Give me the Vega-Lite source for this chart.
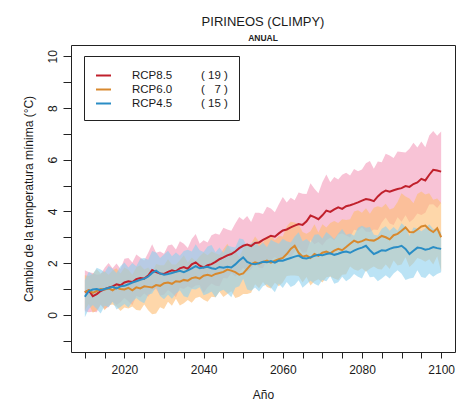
{
  "$schema": "https://vega.github.io/schema/vega-lite/v6.json",
  "width": 384,
  "height": 307,
  "autosize": "none",
  "padding": {"left": 71, "top": 45, "right": 8, "bottom": 53},
  "background": "white",
  "config": {
    "font": "Liberation Sans",
    "view": {"stroke": "#222", "strokeWidth": 1},
    "axis": {"grid": false, "domain": false, "tickColor": "#222", "labelColor": "#1a1a1a", "titleColor": "#1a1a1a", "labelFont": "Liberation Sans", "titleFont": "Liberation Sans", "labelFontSize": 12, "titleFontSize": 12, "titleFontWeight": "normal"}
  },
  "title": {"text": "PIRINEOS (CLIMPY)", "subtitle": "ANUAL", "anchor": "middle", "fontSize": 13, "fontWeight": "normal", "color": "#1a1a1a", "subtitleFontSize": 8.5, "subtitleFontWeight": "bold", "subtitleColor": "#222", "offset": 3, "subtitlePadding": 5, "font": "Liberation Sans", "subtitleFont": "Liberation Sans"},
  "data": {"values": [
{"s":"RCP8.5","year":2010,"mean":0.87,"lo":0.14,"hi":1.72},
{"s":"RCP8.5","year":2011,"mean":0.95,"lo":0.10,"hi":1.65},
{"s":"RCP8.5","year":2012,"mean":0.72,"lo":0.12,"hi":1.62},
{"s":"RCP8.5","year":2013,"mean":0.80,"lo":0.10,"hi":1.55},
{"s":"RCP8.5","year":2014,"mean":0.92,"lo":0.39,"hi":1.57},
{"s":"RCP8.5","year":2015,"mean":0.99,"lo":0.22,"hi":1.82},
{"s":"RCP8.5","year":2016,"mean":1.05,"lo":0.30,"hi":2.00},
{"s":"RCP8.5","year":2017,"mean":1.10,"lo":0.50,"hi":1.80},
{"s":"RCP8.5","year":2018,"mean":1.18,"lo":0.38,"hi":1.98},
{"s":"RCP8.5","year":2019,"mean":1.14,"lo":0.49,"hi":1.77},
{"s":"RCP8.5","year":2020,"mean":1.25,"lo":0.65,"hi":2.17},
{"s":"RCP8.5","year":2021,"mean":1.30,"lo":0.52,"hi":2.20},
{"s":"RCP8.5","year":2022,"mean":1.27,"lo":0.37,"hi":2.02},
{"s":"RCP8.5","year":2023,"mean":1.38,"lo":0.73,"hi":2.33},
{"s":"RCP8.5","year":2024,"mean":1.42,"lo":0.67,"hi":2.22},
{"s":"RCP8.5","year":2025,"mean":1.40,"lo":0.82,"hi":2.10},
{"s":"RCP8.5","year":2026,"mean":1.52,"lo":0.70,"hi":2.40},
{"s":"RCP8.5","year":2027,"mean":1.73,"lo":0.93,"hi":2.73},
{"s":"RCP8.5","year":2028,"mean":1.65,"lo":1.00,"hi":2.40},
{"s":"RCP8.5","year":2029,"mean":1.60,"lo":0.75,"hi":2.45},
{"s":"RCP8.5","year":2030,"mean":1.58,"lo":0.78,"hi":2.36},
{"s":"RCP8.5","year":2031,"mean":1.66,"lo":0.96,"hi":2.68},
{"s":"RCP8.5","year":2032,"mean":1.72,"lo":0.84,"hi":2.72},
{"s":"RCP8.5","year":2033,"mean":1.68,"lo":0.68,"hi":2.53},
{"s":"RCP8.5","year":2034,"mean":1.80,"lo":1.05,"hi":2.85},
{"s":"RCP8.5","year":2035,"mean":1.85,"lo":1.00,"hi":2.75},
{"s":"RCP8.5","year":2036,"mean":1.78,"lo":1.10,"hi":2.58},
{"s":"RCP8.5","year":2037,"mean":1.95,"lo":1.03,"hi":2.93},
{"s":"RCP8.5","year":2038,"mean":2.03,"lo":1.13,"hi":3.13},
{"s":"RCP8.5","year":2039,"mean":1.90,"lo":1.15,"hi":2.75},
{"s":"RCP8.5","year":2040,"mean":1.83,"lo":0.83,"hi":2.88},
{"s":"RCP8.5","year":2041,"mean":1.92,"lo":1.07,"hi":2.80},
{"s":"RCP8.5","year":2042,"mean":1.96,"lo":1.21,"hi":3.08},
{"s":"RCP8.5","year":2043,"mean":2.05,"lo":1.12,"hi":3.15},
{"s":"RCP8.5","year":2044,"mean":2.15,"lo":1.10,"hi":3.10},
{"s":"RCP8.5","year":2045,"mean":2.22,"lo":1.42,"hi":3.37},
{"s":"RCP8.5","year":2046,"mean":2.30,"lo":1.40,"hi":3.30},
{"s":"RCP8.5","year":2047,"mean":2.35,"lo":1.62,"hi":3.25},
{"s":"RCP8.5","year":2048,"mean":2.45,"lo":1.48,"hi":3.53},
{"s":"RCP8.5","year":2049,"mean":2.58,"lo":1.63,"hi":3.78},
{"s":"RCP8.5","year":2050,"mean":2.67,"lo":1.82,"hi":3.67},
{"s":"RCP8.5","year":2051,"mean":2.72,"lo":1.67,"hi":3.82},
{"s":"RCP8.5","year":2052,"mean":2.66,"lo":1.76,"hi":3.59},
{"s":"RCP8.5","year":2053,"mean":2.78,"lo":1.98,"hi":3.95},
{"s":"RCP8.5","year":2054,"mean":2.80,"lo":1.82,"hi":3.95},
{"s":"RCP8.5","year":2055,"mean":2.90,"lo":1.80,"hi":3.90},
{"s":"RCP8.5","year":2056,"mean":2.98,"lo":2.13,"hi":4.18},
{"s":"RCP8.5","year":2057,"mean":3.06,"lo":2.11,"hi":4.11},
{"s":"RCP8.5","year":2058,"mean":3.02,"lo":2.24,"hi":3.97},
{"s":"RCP8.5","year":2059,"mean":3.15,"lo":2.13,"hi":4.28},
{"s":"RCP8.5","year":2060,"mean":3.26,"lo":2.16,"hi":4.56},
{"s":"RCP8.5","year":2061,"mean":3.30,"lo":2.35,"hi":4.35},
{"s":"RCP8.5","year":2062,"mean":3.38,"lo":2.23,"hi":4.53},
{"s":"RCP8.5","year":2063,"mean":3.45,"lo":2.45,"hi":4.43},
{"s":"RCP8.5","year":2064,"mean":3.51,"lo":2.61,"hi":4.73},
{"s":"RCP8.5","year":2065,"mean":3.48,"lo":2.40,"hi":4.68},
{"s":"RCP8.5","year":2066,"mean":3.62,"lo":2.42,"hi":4.67},
{"s":"RCP8.5","year":2067,"mean":3.84,"lo":2.89,"hi":5.09},
{"s":"RCP8.5","year":2068,"mean":3.78,"lo":2.73,"hi":4.88},
{"s":"RCP8.5","year":2069,"mean":3.70,"lo":2.82,"hi":4.70},
{"s":"RCP8.5","year":2070,"mean":3.85,"lo":2.68,"hi":5.13},
{"s":"RCP8.5","year":2071,"mean":4.03,"lo":2.88,"hi":5.43},
{"s":"RCP8.5","year":2072,"mean":3.98,"lo":2.98,"hi":5.13},
{"s":"RCP8.5","year":2073,"mean":4.08,"lo":2.88,"hi":5.33},
{"s":"RCP8.5","year":2074,"mean":4.16,"lo":3.11,"hi":5.24},
{"s":"RCP8.5","year":2075,"mean":4.10,"lo":3.15,"hi":5.42},
{"s":"RCP8.5","year":2076,"mean":4.20,"lo":3.07,"hi":5.50},
{"s":"RCP8.5","year":2077,"mean":4.24,"lo":2.99,"hi":5.39},
{"s":"RCP8.5","year":2078,"mean":4.29,"lo":3.29,"hi":5.64},
{"s":"RCP8.5","year":2079,"mean":4.35,"lo":3.25,"hi":5.55},
{"s":"RCP8.5","year":2080,"mean":4.42,"lo":3.39,"hi":5.62},
{"s":"RCP8.5","year":2081,"mean":4.48,"lo":3.21,"hi":5.86},
{"s":"RCP8.5","year":2082,"mean":4.45,"lo":3.20,"hi":5.95},
{"s":"RCP8.5","year":2083,"mean":4.40,"lo":3.30,"hi":5.65},
{"s":"RCP8.5","year":2084,"mean":4.58,"lo":3.28,"hi":5.93},
{"s":"RCP8.5","year":2085,"mean":4.72,"lo":3.57,"hi":5.90},
{"s":"RCP8.5","year":2086,"mean":4.81,"lo":3.76,"hi":6.23},
{"s":"RCP8.5","year":2087,"mean":4.76,"lo":3.53,"hi":6.16},
{"s":"RCP8.5","year":2088,"mean":4.82,"lo":3.47,"hi":6.07},
{"s":"RCP8.5","year":2089,"mean":4.87,"lo":3.77,"hi":6.32},
{"s":"RCP8.5","year":2090,"mean":4.90,"lo":3.60,"hi":6.30},
{"s":"RCP8.5","year":2091,"mean":4.98,"lo":3.85,"hi":6.28},
{"s":"RCP8.5","year":2092,"mean":4.95,"lo":3.58,"hi":6.43},
{"s":"RCP8.5","year":2093,"mean":5.06,"lo":3.71,"hi":6.66},
{"s":"RCP8.5","year":2094,"mean":5.12,"lo":3.92,"hi":6.47},
{"s":"RCP8.5","year":2095,"mean":5.26,"lo":3.86,"hi":6.71},
{"s":"RCP8.5","year":2096,"mean":5.20,"lo":3.95,"hi":6.48},
{"s":"RCP8.5","year":2097,"mean":5.42,"lo":4.27,"hi":6.94},
{"s":"RCP8.5","year":2098,"mean":5.61,"lo":4.28,"hi":7.11},
{"s":"RCP8.5","year":2099,"mean":5.58,"lo":4.13,"hi":6.93},
{"s":"RCP8.5","year":2100,"mean":5.54,"lo":4.34,"hi":7.09},
{"s":"RCP6.0","year":2010,"mean":0.88,"lo":0.18,"hi":1.53},
{"s":"RCP6.0","year":2011,"mean":0.95,"lo":0.42,"hi":1.50},
{"s":"RCP6.0","year":2012,"mean":0.85,"lo":0.08,"hi":1.58},
{"s":"RCP6.0","year":2013,"mean":0.92,"lo":0.17,"hi":1.77},
{"s":"RCP6.0","year":2014,"mean":1.00,"lo":0.40,"hi":1.60},
{"s":"RCP6.0","year":2015,"mean":0.98,"lo":0.18,"hi":1.68},
{"s":"RCP6.0","year":2016,"mean":1.02,"lo":0.37,"hi":1.55},
{"s":"RCP6.0","year":2017,"mean":0.95,"lo":0.40,"hi":1.72},
{"s":"RCP6.0","year":2018,"mean":1.05,"lo":0.32,"hi":1.80},
{"s":"RCP6.0","year":2019,"mean":1.00,"lo":0.15,"hi":1.60},
{"s":"RCP6.0","year":2020,"mean":0.98,"lo":0.28,"hi":1.83},
{"s":"RCP6.0","year":2021,"mean":1.04,"lo":0.24,"hi":1.74},
{"s":"RCP6.0","year":2022,"mean":0.95,"lo":0.32,"hi":1.55},
{"s":"RCP6.0","year":2023,"mean":1.06,"lo":0.19,"hi":1.84},
{"s":"RCP6.0","year":2024,"mean":1.02,"lo":0.17,"hi":1.92},
{"s":"RCP6.0","year":2025,"mean":1.10,"lo":0.40,"hi":1.75},
{"s":"RCP6.0","year":2026,"mean":1.08,"lo":0.18,"hi":1.83},
{"s":"RCP6.0","year":2027,"mean":1.06,"lo":0.02,"hi":1.64},
{"s":"RCP6.0","year":2028,"mean":1.15,"lo":0.05,"hi":1.97},
{"s":"RCP6.0","year":2029,"mean":1.12,"lo":0.29,"hi":1.92},
{"s":"RCP6.0","year":2030,"mean":1.22,"lo":0.22,"hi":1.92},
{"s":"RCP6.0","year":2031,"mean":1.25,"lo":0.50,"hi":2.15},
{"s":"RCP6.0","year":2032,"mean":1.20,"lo":0.35,"hi":1.95},
{"s":"RCP6.0","year":2033,"mean":1.30,"lo":0.62,"hi":1.95},
{"s":"RCP6.0","year":2034,"mean":1.28,"lo":0.36,"hi":2.11},
{"s":"RCP6.0","year":2035,"mean":1.35,"lo":0.45,"hi":2.30},
{"s":"RCP6.0","year":2036,"mean":1.32,"lo":0.57,"hi":2.02},
{"s":"RCP6.0","year":2037,"mean":1.42,"lo":0.47,"hi":2.22},
{"s":"RCP6.0","year":2038,"mean":1.45,"lo":0.65,"hi":2.08},
{"s":"RCP6.0","year":2039,"mean":1.40,"lo":0.70,"hi":2.27},
{"s":"RCP6.0","year":2040,"mean":1.51,"lo":0.58,"hi":2.41},
{"s":"RCP6.0","year":2041,"mean":1.55,"lo":0.50,"hi":2.30},
{"s":"RCP6.0","year":2042,"mean":1.50,"lo":0.70,"hi":2.45},
{"s":"RCP6.0","year":2043,"mean":1.58,"lo":0.68,"hi":2.38},
{"s":"RCP6.0","year":2044,"mean":1.62,"lo":0.89,"hi":2.32},
{"s":"RCP6.0","year":2045,"mean":1.66,"lo":0.69,"hi":2.54},
{"s":"RCP6.0","year":2046,"mean":1.75,"lo":0.80,"hi":2.75},
{"s":"RCP6.0","year":2047,"mean":1.71,"lo":0.91,"hi":2.46},
{"s":"RCP6.0","year":2048,"mean":1.65,"lo":0.65,"hi":2.50},
{"s":"RCP6.0","year":2049,"mean":1.55,"lo":0.70,"hi":2.23},
{"s":"RCP6.0","year":2050,"mean":1.60,"lo":0.80,"hi":2.57},
{"s":"RCP6.0","year":2051,"mean":1.78,"lo":0.80,"hi":2.73},
{"s":"RCP6.0","year":2052,"mean":1.95,"lo":0.85,"hi":2.75},
{"s":"RCP6.0","year":2053,"mean":2.03,"lo":1.18,"hi":3.03},
{"s":"RCP6.0","year":2054,"mean":1.98,"lo":1.03,"hi":2.83},
{"s":"RCP6.0","year":2055,"mean":2.05,"lo":1.27,"hi":2.80},
{"s":"RCP6.0","year":2056,"mean":2.10,"lo":1.08,"hi":3.03},
{"s":"RCP6.0","year":2057,"mean":2.02,"lo":1.02,"hi":3.07},
{"s":"RCP6.0","year":2058,"mean":2.09,"lo":1.24,"hi":2.89},
{"s":"RCP6.0","year":2059,"mean":2.15,"lo":1.10,"hi":3.05},
{"s":"RCP6.0","year":2060,"mean":2.20,"lo":1.25,"hi":3.03},
{"s":"RCP6.0","year":2061,"mean":2.35,"lo":1.50,"hi":3.42},
{"s":"RCP6.0","year":2062,"mean":2.55,"lo":1.52,"hi":3.60},
{"s":"RCP6.0","year":2063,"mean":2.67,"lo":1.52,"hi":3.57},
{"s":"RCP6.0","year":2064,"mean":2.40,"lo":1.50,"hi":3.50},
{"s":"RCP6.0","year":2065,"mean":2.25,"lo":1.25,"hi":3.20},
{"s":"RCP6.0","year":2066,"mean":2.29,"lo":1.46,"hi":3.14},
{"s":"RCP6.0","year":2067,"mean":2.20,"lo":1.13,"hi":3.23},
{"s":"RCP6.0","year":2068,"mean":2.35,"lo":1.30,"hi":3.50},
{"s":"RCP6.0","year":2069,"mean":2.28,"lo":1.38,"hi":3.18},
{"s":"RCP6.0","year":2070,"mean":2.40,"lo":1.25,"hi":3.50},
{"s":"RCP6.0","year":2071,"mean":2.45,"lo":1.45,"hi":3.38},
{"s":"RCP6.0","year":2072,"mean":2.38,"lo":1.48,"hi":3.55},
{"s":"RCP6.0","year":2073,"mean":2.48,"lo":1.40,"hi":3.63},
{"s":"RCP6.0","year":2074,"mean":2.55,"lo":1.35,"hi":3.55},
{"s":"RCP6.0","year":2075,"mean":2.50,"lo":1.55,"hi":3.70},
{"s":"RCP6.0","year":2076,"mean":2.62,"lo":1.57,"hi":3.67},
{"s":"RCP6.0","year":2077,"mean":2.75,"lo":1.87,"hi":3.70},
{"s":"RCP6.0","year":2078,"mean":2.87,"lo":1.75,"hi":4.00},
{"s":"RCP6.0","year":2079,"mean":2.80,"lo":1.70,"hi":4.05},
{"s":"RCP6.0","year":2080,"mean":2.85,"lo":1.80,"hi":3.95},
{"s":"RCP6.0","year":2081,"mean":2.92,"lo":1.67,"hi":4.12},
{"s":"RCP6.0","year":2082,"mean":2.88,"lo":1.78,"hi":3.91},
{"s":"RCP6.0","year":2083,"mean":2.87,"lo":1.87,"hi":4.14},
{"s":"RCP6.0","year":2084,"mean":2.95,"lo":1.77,"hi":4.20},
{"s":"RCP6.0","year":2085,"mean":3.05,"lo":1.75,"hi":4.15},
{"s":"RCP6.0","year":2086,"mean":3.00,"lo":1.95,"hi":4.30},
{"s":"RCP6.0","year":2087,"mean":2.92,"lo":1.77,"hi":4.07},
{"s":"RCP6.0","year":2088,"mean":3.08,"lo":2.10,"hi":4.13},
{"s":"RCP6.0","year":2089,"mean":3.13,"lo":1.91,"hi":4.36},
{"s":"RCP6.0","year":2090,"mean":3.25,"lo":1.95,"hi":4.70},
{"s":"RCP6.0","year":2091,"mean":3.38,"lo":2.23,"hi":4.58},
{"s":"RCP6.0","year":2092,"mean":3.20,"lo":1.85,"hi":4.50},
{"s":"RCP6.0","year":2093,"mean":3.19,"lo":1.99,"hi":4.32},
{"s":"RCP6.0","year":2094,"mean":3.30,"lo":2.20,"hi":4.67},
{"s":"RCP6.0","year":2095,"mean":3.42,"lo":2.14,"hi":4.77},
{"s":"RCP6.0","year":2096,"mean":3.45,"lo":2.05,"hi":4.65},
{"s":"RCP6.0","year":2097,"mean":3.30,"lo":2.15,"hi":4.70},
{"s":"RCP6.0","year":2098,"mean":3.20,"lo":1.95,"hi":4.45},
{"s":"RCP6.0","year":2099,"mean":3.35,"lo":2.27,"hi":4.50},
{"s":"RCP6.0","year":2100,"mean":3.00,"lo":1.68,"hi":4.33},
{"s":"RCP4.5","year":2010,"mean":0.70,"lo":-0.10,"hi":1.35},
{"s":"RCP4.5","year":2011,"mean":0.92,"lo":0.22,"hi":1.67},
{"s":"RCP4.5","year":2012,"mean":0.98,"lo":0.38,"hi":1.56},
{"s":"RCP4.5","year":2013,"mean":1.00,"lo":0.22,"hi":1.82},
{"s":"RCP4.5","year":2014,"mean":0.95,"lo":0.05,"hi":1.75},
{"s":"RCP4.5","year":2015,"mean":1.00,"lo":0.35,"hi":1.65},
{"s":"RCP4.5","year":2016,"mean":1.04,"lo":0.29,"hi":1.89},
{"s":"RCP4.5","year":2017,"mean":1.08,"lo":0.50,"hi":1.78},
{"s":"RCP4.5","year":2018,"mean":1.02,"lo":0.20,"hi":1.62},
{"s":"RCP4.5","year":2019,"mean":1.10,"lo":0.30,"hi":1.88},
{"s":"RCP4.5","year":2020,"mean":1.12,"lo":0.42,"hi":2.02},
{"s":"RCP4.5","year":2021,"mean":1.18,"lo":0.28,"hi":1.83},
{"s":"RCP4.5","year":2022,"mean":1.25,"lo":0.50,"hi":2.00},
{"s":"RCP4.5","year":2023,"mean":1.30,"lo":0.65,"hi":1.88},
{"s":"RCP4.5","year":2024,"mean":1.35,"lo":0.52,"hi":2.17},
{"s":"RCP4.5","year":2025,"mean":1.40,"lo":0.45,"hi":2.20},
{"s":"RCP4.5","year":2026,"mean":1.48,"lo":0.78,"hi":2.13},
{"s":"RCP4.5","year":2027,"mean":1.62,"lo":0.82,"hi":2.47},
{"s":"RCP4.5","year":2028,"mean":1.71,"lo":1.08,"hi":2.41},
{"s":"RCP4.5","year":2029,"mean":1.60,"lo":0.73,"hi":2.20},
{"s":"RCP4.5","year":2030,"mean":1.55,"lo":0.60,"hi":2.33},
{"s":"RCP4.5","year":2031,"mean":1.58,"lo":0.78,"hi":2.48},
{"s":"RCP4.5","year":2032,"mean":1.62,"lo":0.62,"hi":2.27},
{"s":"RCP4.5","year":2033,"mean":1.66,"lo":0.81,"hi":2.41},
{"s":"RCP4.5","year":2034,"mean":1.70,"lo":0.95,"hi":2.28},
{"s":"RCP4.5","year":2035,"mean":1.65,"lo":0.72,"hi":2.47},
{"s":"RCP4.5","year":2036,"mean":1.72,"lo":0.67,"hi":2.52},
{"s":"RCP4.5","year":2037,"mean":1.80,"lo":1.00,"hi":2.45},
{"s":"RCP4.5","year":2038,"mean":1.88,"lo":0.98,"hi":2.73},
{"s":"RCP4.5","year":2039,"mean":1.80,"lo":1.07,"hi":2.50},
{"s":"RCP4.5","year":2040,"mean":1.83,"lo":0.76,"hi":2.43},
{"s":"RCP4.5","year":2041,"mean":1.86,"lo":0.81,"hi":2.64},
{"s":"RCP4.5","year":2042,"mean":1.80,"lo":0.90,"hi":2.70},
{"s":"RCP4.5","year":2043,"mean":1.77,"lo":0.67,"hi":2.42},
{"s":"RCP4.5","year":2044,"mean":1.85,"lo":0.90,"hi":2.60},
{"s":"RCP4.5","year":2045,"mean":1.82,"lo":0.97,"hi":2.40},
{"s":"RCP4.5","year":2046,"mean":1.86,"lo":0.83,"hi":2.68},
{"s":"RCP4.5","year":2047,"mean":1.83,"lo":0.68,"hi":2.63},
{"s":"RCP4.5","year":2048,"mean":1.95,"lo":1.05,"hi":2.60},
{"s":"RCP4.5","year":2049,"mean":2.10,"lo":1.10,"hi":2.95},
{"s":"RCP4.5","year":2050,"mean":2.22,"lo":1.39,"hi":2.92},
{"s":"RCP4.5","year":2051,"mean":2.05,"lo":0.98,"hi":2.65},
{"s":"RCP4.5","year":2052,"mean":1.98,"lo":0.93,"hi":2.76},
{"s":"RCP4.5","year":2053,"mean":1.96,"lo":1.06,"hi":2.86},
{"s":"RCP4.5","year":2054,"mean":2.00,"lo":0.90,"hi":2.65},
{"s":"RCP4.5","year":2055,"mean":2.05,"lo":1.10,"hi":2.80},
{"s":"RCP4.5","year":2056,"mean":2.03,"lo":1.18,"hi":2.61},
{"s":"RCP4.5","year":2057,"mean":2.08,"lo":1.05,"hi":2.90},
{"s":"RCP4.5","year":2058,"mean":2.02,"lo":0.87,"hi":2.82},
{"s":"RCP4.5","year":2059,"mean":2.10,"lo":1.20,"hi":2.75},
{"s":"RCP4.5","year":2060,"mean":2.09,"lo":1.04,"hi":2.94},
{"s":"RCP4.5","year":2061,"mean":2.15,"lo":1.27,"hi":2.85},
{"s":"RCP4.5","year":2062,"mean":2.20,"lo":1.08,"hi":2.80},
{"s":"RCP4.5","year":2063,"mean":2.25,"lo":1.15,"hi":3.03},
{"s":"RCP4.5","year":2064,"mean":2.29,"lo":1.34,"hi":3.19},
{"s":"RCP4.5","year":2065,"mean":2.20,"lo":1.05,"hi":2.85},
{"s":"RCP4.5","year":2066,"mean":2.18,"lo":1.18,"hi":2.93},
{"s":"RCP4.5","year":2067,"mean":2.22,"lo":1.32,"hi":2.80},
{"s":"RCP4.5","year":2068,"mean":2.28,"lo":1.20,"hi":3.10},
{"s":"RCP4.5","year":2069,"mean":2.32,"lo":1.12,"hi":3.12},
{"s":"RCP4.5","year":2070,"mean":2.30,"lo":1.35,"hi":2.95},
{"s":"RCP4.5","year":2071,"mean":2.35,"lo":1.30,"hi":3.20},
{"s":"RCP4.5","year":2072,"mean":2.38,"lo":1.50,"hi":3.08},
{"s":"RCP4.5","year":2073,"mean":2.32,"lo":1.20,"hi":2.92},
{"s":"RCP4.5","year":2074,"mean":2.36,"lo":1.26,"hi":3.14},
{"s":"RCP4.5","year":2075,"mean":2.42,"lo":1.47,"hi":3.32},
{"s":"RCP4.5","year":2076,"mean":2.45,"lo":1.30,"hi":3.10},
{"s":"RCP4.5","year":2077,"mean":2.40,"lo":1.40,"hi":3.15},
{"s":"RCP4.5","year":2078,"mean":2.48,"lo":1.58,"hi":3.06},
{"s":"RCP4.5","year":2079,"mean":2.55,"lo":1.47,"hi":3.37},
{"s":"RCP4.5","year":2080,"mean":2.60,"lo":1.40,"hi":3.45},
{"s":"RCP4.5","year":2081,"mean":2.67,"lo":1.72,"hi":3.37},
{"s":"RCP4.5","year":2082,"mean":2.50,"lo":1.45,"hi":3.40},
{"s":"RCP4.5","year":2083,"mean":2.35,"lo":1.47,"hi":3.10},
{"s":"RCP4.5","year":2084,"mean":2.42,"lo":1.30,"hi":3.07},
{"s":"RCP4.5","year":2085,"mean":2.50,"lo":1.40,"hi":3.33},
{"s":"RCP4.5","year":2086,"mean":2.48,"lo":1.53,"hi":3.43},
{"s":"RCP4.5","year":2087,"mean":2.55,"lo":1.40,"hi":3.25},
{"s":"RCP4.5","year":2088,"mean":2.60,"lo":1.60,"hi":3.40},
{"s":"RCP4.5","year":2089,"mean":2.62,"lo":1.72,"hi":3.25},
{"s":"RCP4.5","year":2090,"mean":2.67,"lo":1.59,"hi":3.54},
{"s":"RCP4.5","year":2091,"mean":2.55,"lo":1.35,"hi":3.40},
{"s":"RCP4.5","year":2092,"mean":2.35,"lo":1.40,"hi":3.05},
{"s":"RCP4.5","year":2093,"mean":2.48,"lo":1.43,"hi":3.38},
{"s":"RCP4.5","year":2094,"mean":2.60,"lo":1.72,"hi":3.35},
{"s":"RCP4.5","year":2095,"mean":2.58,"lo":1.46,"hi":3.23},
{"s":"RCP4.5","year":2096,"mean":2.52,"lo":1.42,"hi":3.35},
{"s":"RCP4.5","year":2097,"mean":2.55,"lo":1.60,"hi":3.50},
{"s":"RCP4.5","year":2098,"mean":2.62,"lo":1.47,"hi":3.32},
{"s":"RCP4.5","year":2099,"mean":2.58,"lo":1.58,"hi":3.33},
{"s":"RCP4.5","year":2100,"mean":2.55,"lo":1.65,"hi":3.18}
  ]},
  "encoding": {
    "x": {"field": "year", "type": "quantitative",
      "scale": {"domain": [2006.5, 2103.5], "nice": false, "zero": false},
      "axis": {"title": "Año", "values": [2010,2015,2020,2025,2030,2035,2040,2045,2050,2055,2060,2065,2070,2075,2080,2085,2090,2095,2100], "format": "d", "labelExpr": "datum.value % 20 == 0 ? datum.label : ''", "tickSize": 6, "labelPadding": 6, "titlePadding": 14, "labelFlush": false, "labelOverlap": false}
    },
    "y": {"field": "lo", "type": "quantitative",
      "scale": {"domain": [-1.44, 10.44], "nice": false, "zero": false},
      "axis": {"title": "Cambio de la temperatura mínima (°C)", "values": [-1,0,1,2,3,4,5,6,7,8,9,10], "labelExpr": "(datum.value >= 0 && datum.value % 2 == 0) ? datum.label : ''", "labelAngle": 270, "labelAlign": "center", "labelBaseline": "bottom", "tickSize": 8, "labelPadding": 4, "titlePadding": 11, "labelOverlap": false, "labelFlush": false}}
  },
  "layer": [
    {
      "mark": {"type": "area", "fillOpacity": 0.6, "interpolate": "linear"},
      "encoding": {
        "y2": {"field": "hi"},
        "fill": {"field": "s", "type": "nominal", "scale": {"domain": ["RCP8.5", "RCP6.0", "RCP4.5"], "range": ["#f39bbb", "#fdbd72", "#8dd0ee"]}, "legend": null}
      }
    },
    {
      "mark": {"type": "rule", "color": "#222", "strokeWidth": 1},
      "encoding": {"y": {"datum": 0}}
    },
    {
      "mark": {"type": "line", "strokeWidth": 2},
      "encoding": {
        "y": {"field": "mean", "type": "quantitative"},
        "color": {"field": "s", "type": "nominal",
          "scale": {"domain": ["RCP8.5", "RCP6.0", "RCP4.5"], "range": ["#c0202c", "#d8892e", "#2a8dc5"]},
          "legend": {"title": null, "orient": "none", "legendX": 13, "legendY": 11, "symbolType": "stroke", "symbolSize": 225, "symbolStrokeWidth": 2, "labelFontSize": 11.5, "labelFont": "Liberation Sans", "labelColor": "#1a1a1a", "labelOffset": 20, "rowPadding": -1, "padding": 11, "strokeColor": "#222", "fillColor": "white",
            "labelExpr": "datum.label == 'RCP8.5' ? 'RCP8.5\u00a0\u00a0\u00a0\u00a0\u00a0\u00a0\u00a0\u00a0\u00a0(\u00a019\u00a0)' : datum.label == 'RCP6.0' ? 'RCP6.0\u00a0\u00a0\u00a0\u00a0\u00a0\u00a0\u00a0\u00a0\u00a0(\u00a0\u00a0\u00a07\u00a0)' : 'RCP4.5\u00a0\u00a0\u00a0\u00a0\u00a0\u00a0\u00a0\u00a0\u00a0(\u00a015\u00a0)'"}
        }
      }
    }
  ],
  "resolve": {"legend": {"fill": "independent", "color": "independent"}}
}
